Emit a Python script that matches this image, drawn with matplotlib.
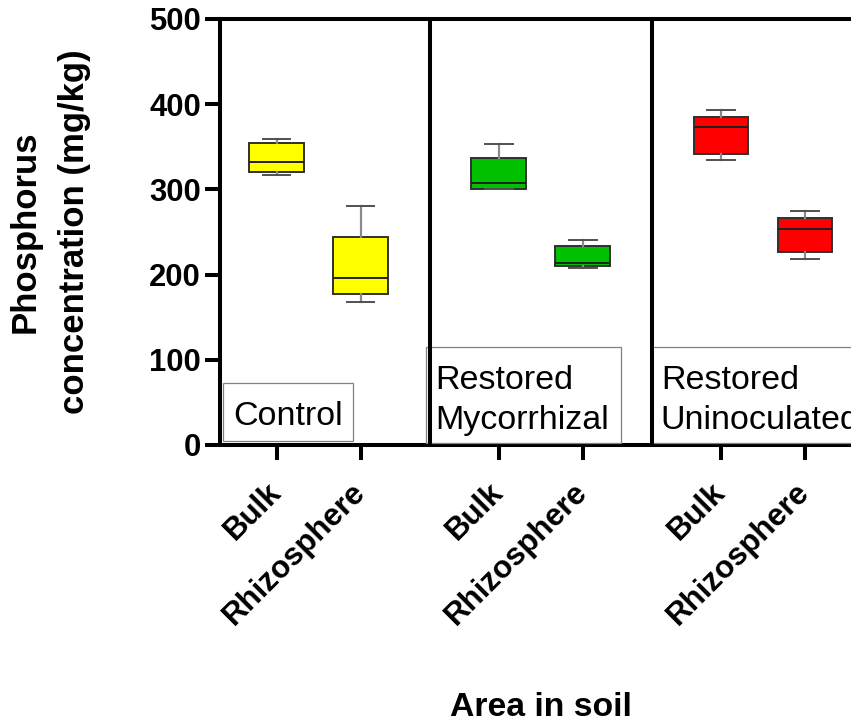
import matplotlib
matplotlib.use('Agg')
import matplotlib.pyplot as plt
from matplotlib.patches import Rectangle

plt.rcParams['font.family'] = ['Liberation Sans', 'DejaVu Sans']

groups = ['Control', 'Restored\nMycorrhizal', 'Restored\nUninoculated']
areas = ['Bulk', 'Rhizosphere']
colors = ['#FFFF00', '#00C000', '#FF0000']

# five-number summaries, one entry per box (group by group, Bulk then Rhizosphere)
whislo = [317, 168, 300, 208, 334, 218]
q1 = [320, 177, 301, 210, 341, 227]
med = [332, 196, 308, 214, 373, 254]
q3 = [354, 244, 337, 234, 385, 267]
whishi = [359, 281, 353, 241, 393, 275]

group_step = 2.645
positions = [g * group_step + i for g in range(len(groups)) for i in range(len(areas))]

stats = []
for k in range(len(positions)):
    stats.append({'whislo': whislo[k], 'q1': q1[k], 'med': med[k],
                  'q3': q3[k], 'whishi': whishi[k], 'fliers': []})

fig = plt.figure(figsize=(8.51, 7.25), dpi=100)
ax = fig.add_axes([219.5 / 851, 280 / 725, (862 - 219.5) / 851, 426 / 725])

bp = ax.bxp(stats, positions=positions, widths=0.65, patch_artist=True,
            showfliers=False,
            boxprops=dict(edgecolor='#303030', linewidth=1.4),
            medianprops=dict(color='#202020', linewidth=1.4),
            whiskerprops=dict(color='#8a8a8a', linewidth=1.6),
            capprops=dict(color='#505050', linewidth=1.4),
            capwidths=0.33)
for k, patch in enumerate(bp['boxes']):
    patch.set_facecolor(colors[k // 2])

ax.set_xlim(-0.68, 6.97)
ax.set_ylim(0, 500)
ax.set_yticks([0, 100, 200, 300, 400, 500])

# group dividers
for g in range(1, len(groups)):
    ax.axvline((g - 1) * group_step + 0.5 + group_step / 2, color='black',
               linewidth=2.9, zorder=4)

# group label boxes (text baseline given for the last line)
label_boxes = [(-0.637, 4.7, 1.548, 68.1), (1.776, 2.3, 2.325, 112.4),
               (4.47, 2.3, 3.0, 112.4)]
label_pos = [(-0.52, 23.5), (1.887, 18.4), (4.574, 18.4)]
for (bx, by, bw, bh), (tx, ty), name in zip(label_boxes, label_pos, groups):
    ax.add_patch(Rectangle((bx, by), bw, bh, facecolor='white',
                           edgecolor='#808080', linewidth=0.9, zorder=3))
    ax.text(tx, ty, name, fontsize=24.5, va='baseline', ha='left',
            linespacing=1.4, zorder=5, clip_on=True)

ax.set_xticks(positions)
ax.set_xticklabels(areas * len(groups), rotation=45, ha='right', va='center',
                   rotation_mode='anchor', fontsize=22.5, fontweight='bold')
for lbl in ax.get_yticklabels():
    lbl.set_fontsize(22.3)
    lbl.set_fontweight('bold')

for side in ['left', 'bottom', 'top']:
    ax.spines[side].set_linewidth(2.9)
ax.spines['right'].set_visible(False)
ax.tick_params(axis='both', width=2.9, length=10.5)
ax.tick_params(axis='x', pad=20)
ax.tick_params(axis='y', pad=3)

ax.set_ylabel('Phosphorus\nconcentration (mg/kg)', fontsize=25,
              fontweight='bold', linespacing=1.6, labelpad=42)
ax.set_xlabel('Area in soil', fontsize=24.3, fontweight='bold', labelpad=44)

fig.savefig('out.png', dpi=100)
